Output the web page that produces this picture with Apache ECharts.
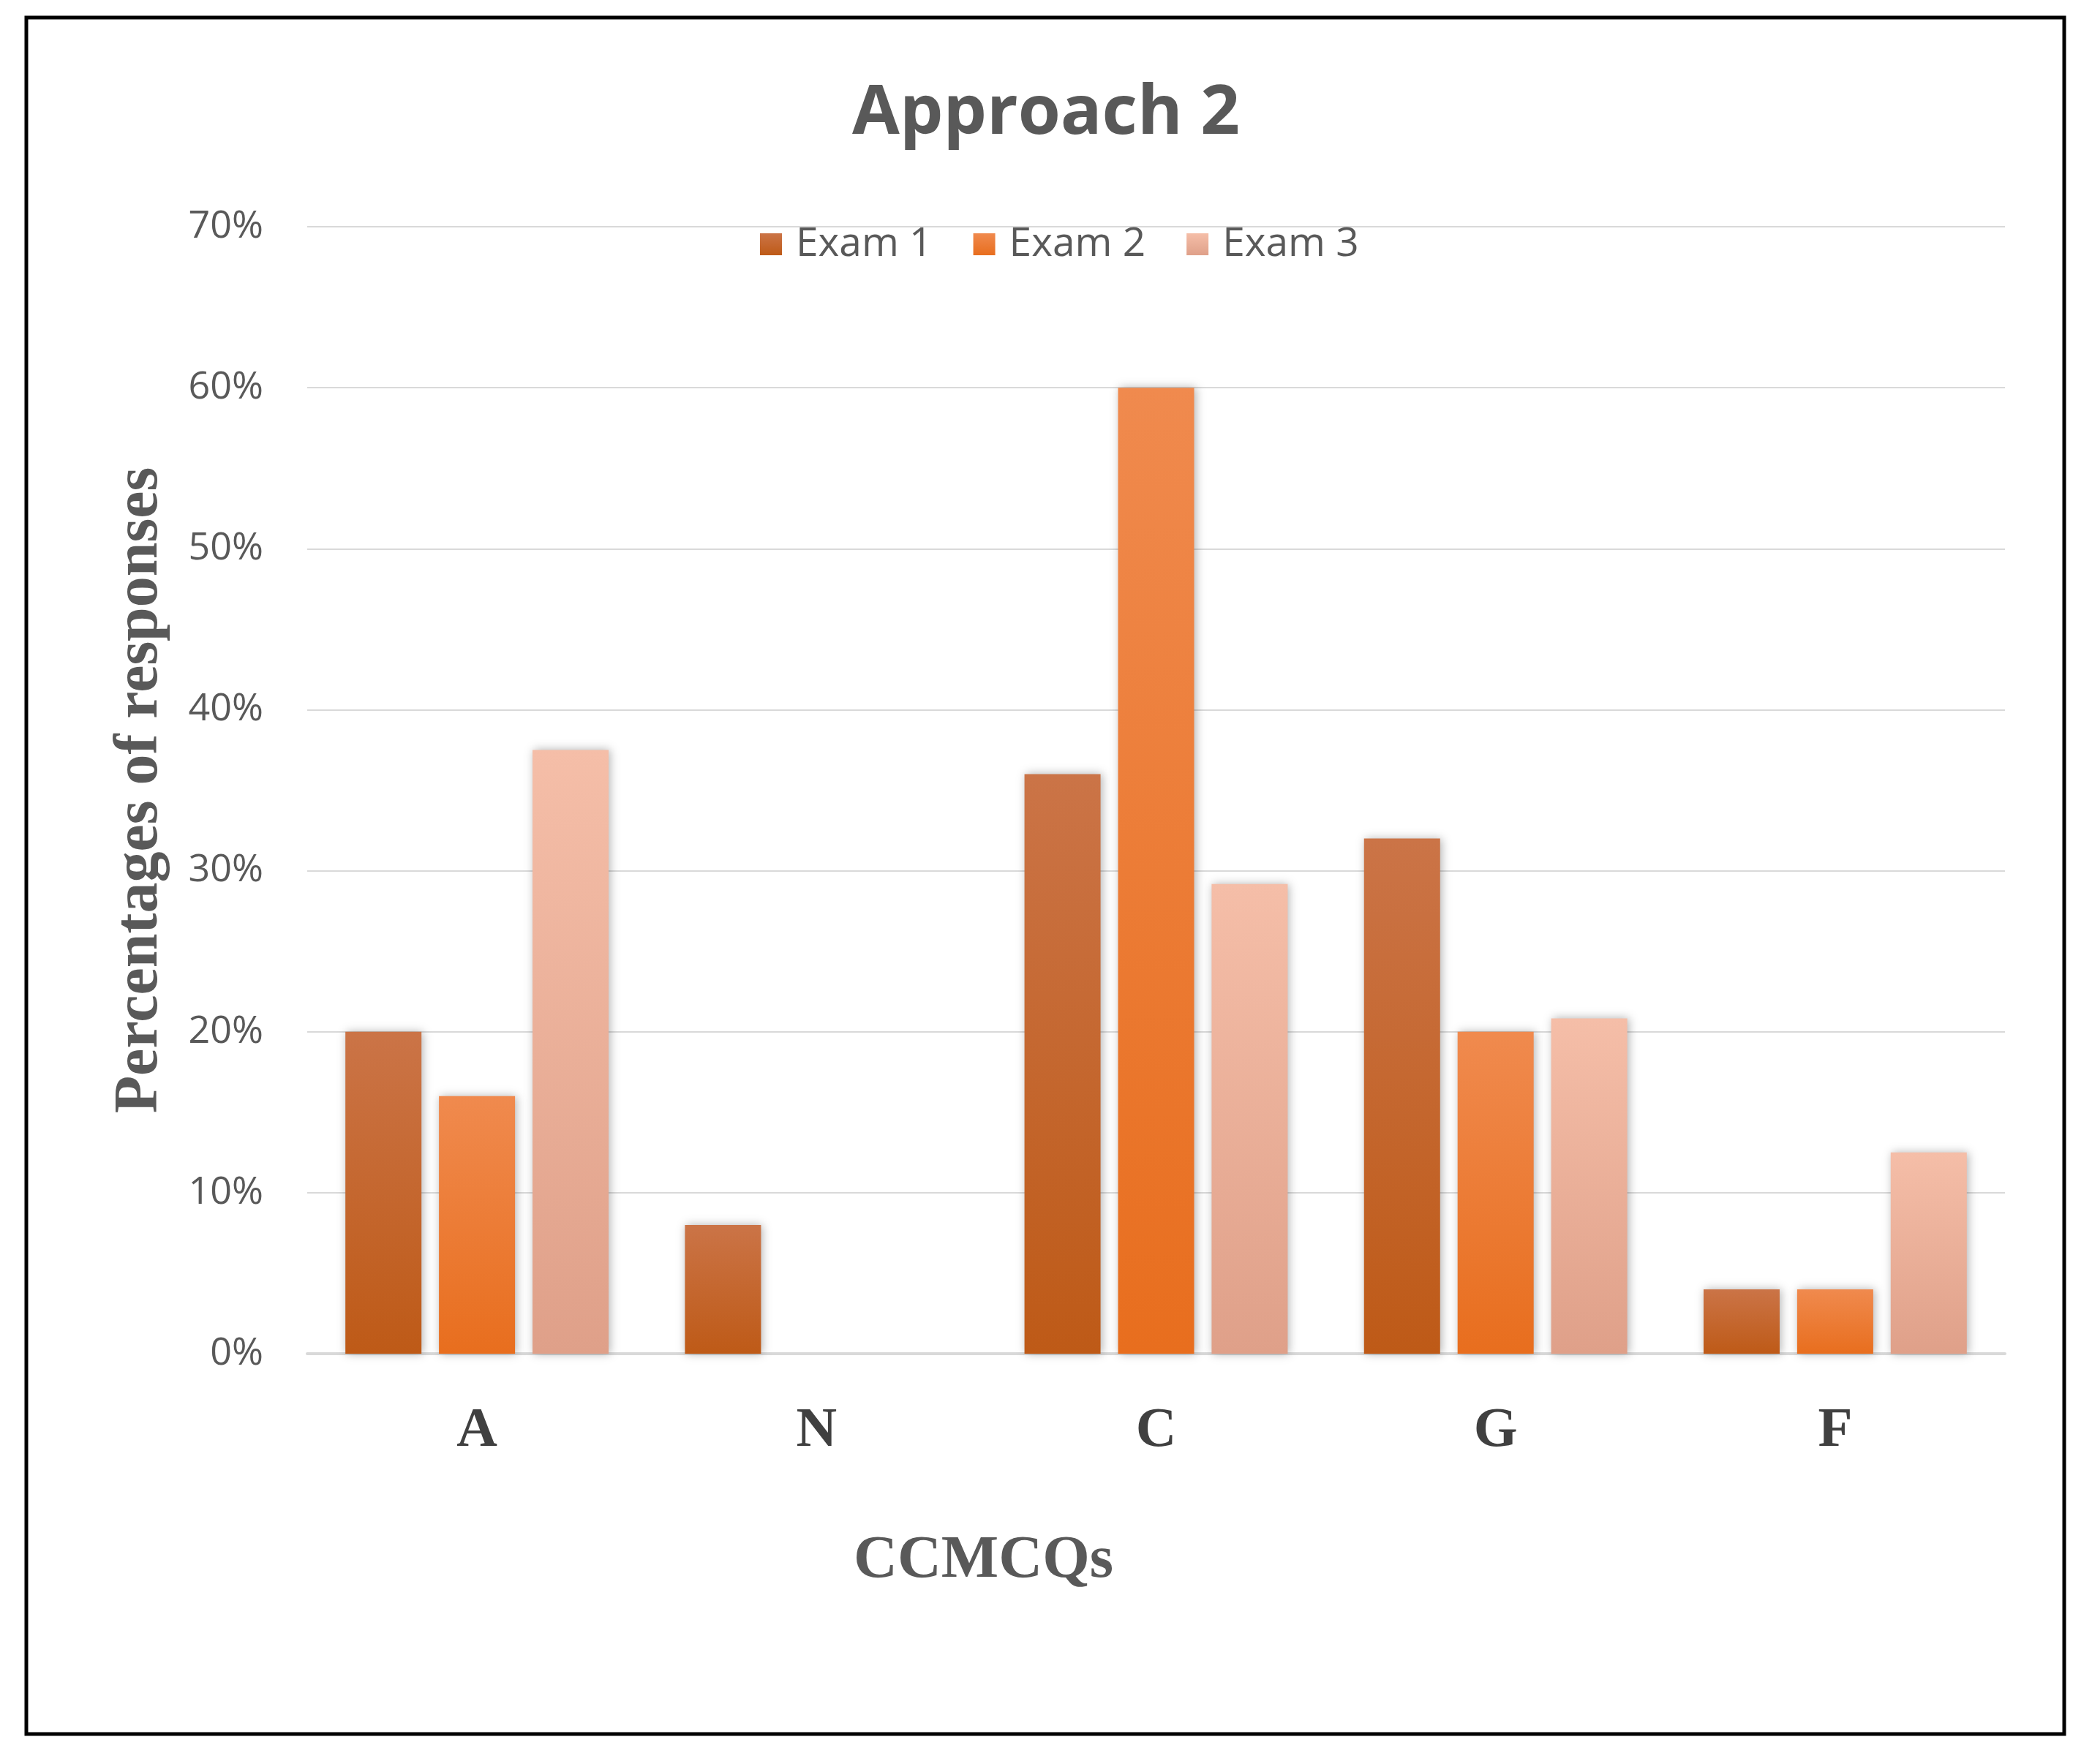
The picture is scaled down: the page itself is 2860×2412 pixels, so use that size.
<!DOCTYPE html>
<html>
<head>
<meta charset="utf-8">
<script src="https://cdn.jsdelivr.net/npm/echarts@6/dist/echarts.min.js"></script>
<style>
html,body{margin:0;padding:0;background:#fff;}
#chart{width:2860px;height:2412px;}
</style>
</head>
<body>
<div id="chart"></div>
<script>
var categories = ['A', 'N', 'C', 'G', 'F'];
var seriesNames = ['Exam 1', 'Exam 2', 'Exam 3'];
var exam1 = [20, 8, 36, 32, 4];
var exam2 = [16, 0, 60, 20, 4];
var exam3 = [37.5, 0, 29.17, 20.83, 12.5];
var yTicks = { min: 0, max: 70, interval: 10 };

var gradients = [
  ['#CB7447', '#BE5A17'],
  ['#F08A4E', '#E86E1E'],
  ['#F5BEA8', '#DFA089']
];
function grad(c) {
  return { type: 'linear', x: 0, y: 0, x2: 0, y2: 1,
    colorStops: [{ offset: 0, color: c[0] }, { offset: 1, color: c[1] }] };
}
var values = [exam1, exam2, exam3];
var series = seriesNames.map(function (n, i) {
  return {
    name: n, type: 'bar', data: values[i],
    barWidth: 104, barGap: '23%',
    itemStyle: { color: grad(gradients[i]), shadowColor: 'rgba(0,0,0,0.3)', shadowBlur: 12, shadowOffsetX: 2, shadowOffsetY: 0 }
  };
});

var chart = echarts.init(document.getElementById('chart'));
chart.setOption({
  backgroundColor: '#ffffff',
  animation: false,
  title: {
    text: 'Approach 2', left: 'center', top: 104,
    textStyle: { fontFamily: 'Open Sans', fontWeight: 'bold', fontSize: 94, color: '#595959' }
  },
  legend: {
    data: seriesNames, left: 1034, top: 299, icon: 'rect',
    itemWidth: 30, itemHeight: 30, itemGap: 56,
    textStyle: { fontFamily: 'Open Sans', fontSize: 55, color: '#595959', lineHeight: 60, padding: [0, 0, 0, 14] }
  },
  grid: { left: 420, right: 119, top: 310, bottom: 561, containLabel: false },
  xAxis: {
    type: 'category', data: categories,
    axisTick: { show: false },
    axisLine: { lineStyle: { color: '#D9D9D9', width: 4 } },
    axisLabel: { margin: 68, fontFamily: 'Liberation Serif', fontWeight: 'bold', fontSize: 77, color: '#404040' },
    name: 'CCMCQs', nameLocation: 'middle', nameGap: 242,
    nameTextStyle: { fontFamily: 'Liberation Serif', fontWeight: 'bold', fontSize: 83, color: '#595959', padding: [0, 472, 0, 0] }
  },
  yAxis: {
    type: 'value', min: yTicks.min, max: yTicks.max, interval: yTicks.interval,
    axisLine: { show: false }, axisTick: { show: false },
    splitLine: { lineStyle: { color: '#D9D9D9', width: 2 } },
    axisLabel: { formatter: '{value}%', margin: 60, fontFamily: 'Open Sans', fontSize: 52, color: '#595959' },
    name: 'Percentages of responses', nameLocation: 'middle', nameGap: 186,
    nameTextStyle: { fontFamily: 'Liberation Serif', fontWeight: 'bold', fontSize: 84, color: '#595959' }
  },
  graphic: [{
    type: 'rect', z: 100, silent: true,
    shape: { x: 36, y: 24, width: 2786, height: 2347 },
    style: { fill: 'none', stroke: '#000000', lineWidth: 5 }
  }],
  series: series
});
</script>
</body>
</html>
